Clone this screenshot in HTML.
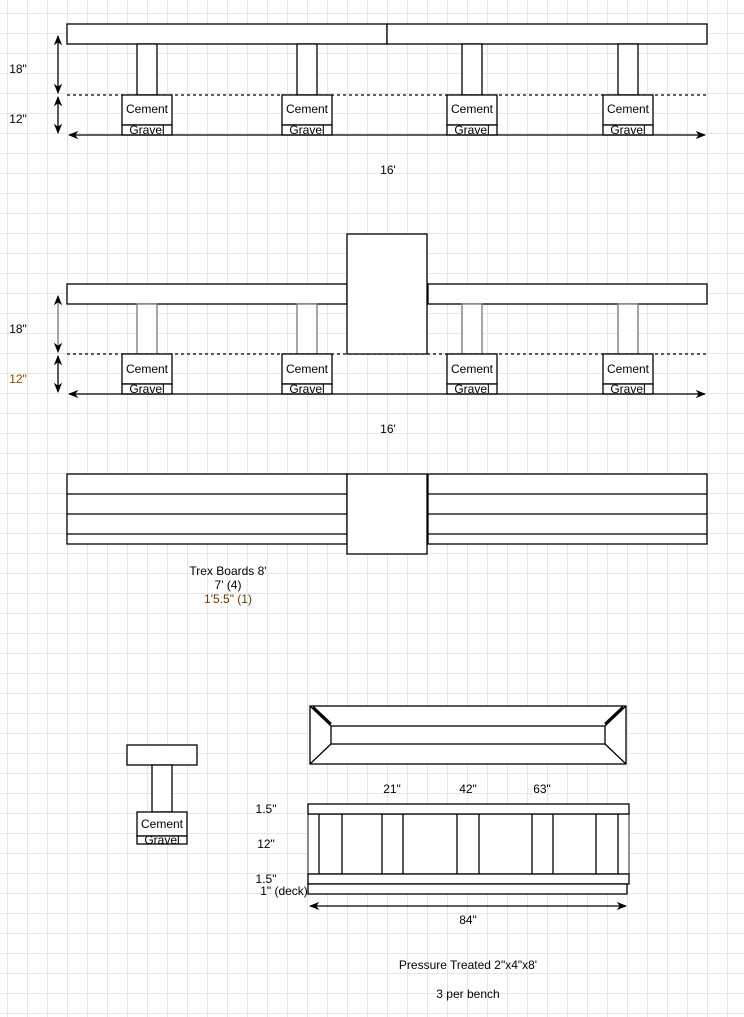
<!DOCTYPE html>
<html><head><meta charset="utf-8"><style>
html,body{margin:0;padding:0;background:#fff;}
body{width:744px;height:1017px;overflow:hidden;
background-image:linear-gradient(#e6e6e6 1px,transparent 1px),linear-gradient(90deg,#e6e6e6 1px,transparent 1px);
background-size:20px 20px;background-position:7px 13px;}
svg{position:absolute;left:0;top:0;}
text{font-family:"Liberation Sans",Arial,sans-serif;font-size:12px;fill:#000;}
</style></head><body>
<svg width="744" height="1017" viewBox="0 0 744 1017">
<defs>
<marker id="a" viewBox="0 0 10 10" refX="9" refY="5" markerWidth="8" markerHeight="8" orient="auto-start-reverse"><path d="M0,1 L10,5 L0,9 L3,5z" fill="#000"/></marker>
</defs>
<g stroke="#000" stroke-width="1.3" fill="#fff">
<!-- Section 1 -->
<rect x="67" y="24" width="320" height="20"/><rect x="387" y="24" width="320" height="20"/>
<rect x="137" y="44" width="20" height="51"/><rect x="297" y="44" width="20" height="51"/>
<rect x="462" y="44" width="20" height="51"/><rect x="618" y="44" width="20" height="51"/>
<line x1="67" y1="95" x2="707" y2="95" stroke-dasharray="3,3"/>
<rect x="122" y="95" width="50" height="30"/><rect x="122" y="125" width="50" height="10"/>
<rect x="282" y="95" width="50" height="30"/><rect x="282" y="125" width="50" height="10"/>
<rect x="447" y="95" width="50" height="30"/><rect x="447" y="125" width="50" height="10"/>
<rect x="603" y="95" width="50" height="30"/><rect x="603" y="125" width="50" height="10"/>
<line x1="69" y1="135" x2="705" y2="135" marker-start="url(#a)" marker-end="url(#a)"/>
<line x1="58" y1="36" x2="58" y2="93" marker-start="url(#a)" marker-end="url(#a)"/>
<line x1="58" y1="97" x2="58" y2="133" marker-start="url(#a)" marker-end="url(#a)"/>
<!-- Section 2 -->
<rect x="67" y="284" width="280" height="20"/><rect x="428" y="284" width="279" height="20"/>
<rect x="137" y="304" width="20" height="50" stroke="#777"/><rect x="297" y="304" width="20" height="50" stroke="#777"/>
<rect x="462" y="304" width="20" height="50" stroke="#777"/><rect x="618" y="304" width="20" height="50" stroke="#777"/>
<line x1="67" y1="354" x2="707" y2="354" stroke-dasharray="3,3"/>
<rect x="347" y="234" width="80" height="120"/>
<rect x="122" y="354" width="50" height="30"/><rect x="122" y="384" width="50" height="10"/>
<rect x="282" y="354" width="50" height="30"/><rect x="282" y="384" width="50" height="10"/>
<rect x="447" y="354" width="50" height="30"/><rect x="447" y="384" width="50" height="10"/>
<rect x="603" y="354" width="50" height="30"/><rect x="603" y="384" width="50" height="10"/>
<line x1="69" y1="394" x2="705" y2="394" marker-start="url(#a)" marker-end="url(#a)"/>
<line x1="58" y1="296" x2="58" y2="352" stroke="#777" marker-start="url(#a)" marker-end="url(#a)"/>
<line x1="58" y1="356" x2="58" y2="392" marker-start="url(#a)" marker-end="url(#a)"/>
<!-- Section 3 -->
<rect x="67" y="474" width="280" height="70"/><rect x="428" y="474" width="279" height="70"/>
<line x1="67" y1="494" x2="347" y2="494"/><line x1="67" y1="514" x2="347" y2="514"/><line x1="67" y1="534" x2="347" y2="534"/>
<line x1="428" y1="494" x2="707" y2="494"/><line x1="428" y1="514" x2="707" y2="514"/><line x1="428" y1="534" x2="707" y2="534"/>
<rect x="347" y="474" width="80" height="80"/>
<!-- Section 4 small -->
<rect x="127" y="745" width="70" height="20"/>
<rect x="152" y="765" width="20" height="47"/>
<rect x="137" y="812" width="50" height="24"/><rect x="137" y="836" width="50" height="8"/>
<!-- top view -->
<rect x="310" y="706" width="316" height="58"/>
<rect x="331" y="726" width="274" height="18"/>
<line x1="310" y1="706" x2="331" y2="726"/><line x1="626" y1="706" x2="605" y2="726"/>
<line x1="310" y1="764" x2="331" y2="744"/><line x1="626" y1="764" x2="605" y2="744"/>
<line x1="313" y1="707" x2="331" y2="724" stroke-width="2.5"/><line x1="623" y1="707" x2="605" y2="724" stroke-width="2.5"/>
<!-- front view -->
<rect x="308" y="814" width="321" height="60" stroke="#555"/>
<rect x="319" y="814" width="23" height="60"/><rect x="382" y="814" width="21" height="60"/>
<rect x="457" y="814" width="22" height="60"/><rect x="532" y="814" width="21" height="60"/>
<rect x="596" y="814" width="22" height="60"/>
<rect x="308" y="804" width="321" height="10"/>
<rect x="308" y="874" width="321" height="10"/>
<rect x="308" y="884" width="319" height="10"/>
<line x1="310" y1="906" x2="626" y2="906" marker-start="url(#a)" marker-end="url(#a)"/>
</g>
<g text-anchor="middle">
<text x="18" y="73">18"</text><text x="18" y="123">12"</text>
<text x="147" y="113">Cement</text><text x="147" y="134">Gravel</text>
<text x="307" y="113">Cement</text><text x="307" y="134">Gravel</text>
<text x="472" y="113">Cement</text><text x="472" y="134">Gravel</text>
<text x="628" y="113">Cement</text><text x="628" y="134">Gravel</text>
<text x="388" y="174">16'</text>
<text x="18" y="333">18"</text><text x="18" y="383" style="fill:#8a4a00">12"</text>
<text x="147" y="373">Cement</text><text x="147" y="393">Gravel</text>
<text x="307" y="373">Cement</text><text x="307" y="393">Gravel</text>
<text x="472" y="373">Cement</text><text x="472" y="393">Gravel</text>
<text x="628" y="373">Cement</text><text x="628" y="393">Gravel</text>
<text x="388" y="433">16'</text>
<text x="228" y="575">Trex Boards 8'</text><text x="228" y="589">7' (4)</text><text x="228" y="603" style="fill:#6a3a00">1'5.5" (1)</text>
<text x="162" y="828">Cement</text><text x="162" y="844">Gravel</text>
<text x="392" y="793">21"</text><text x="468" y="793">42"</text><text x="542" y="793">63"</text>
<text x="266" y="813">1.5"</text><text x="266" y="848">12"</text><text x="266" y="883">1.5"</text>
<text x="284" y="895">1" (deck)</text>
<text x="468" y="924">84"</text>
<text x="468" y="969">Pressure Treated 2"x4"x8'</text>
<text x="468" y="998">3 per bench</text>
</g>
</svg>
</body></html>
